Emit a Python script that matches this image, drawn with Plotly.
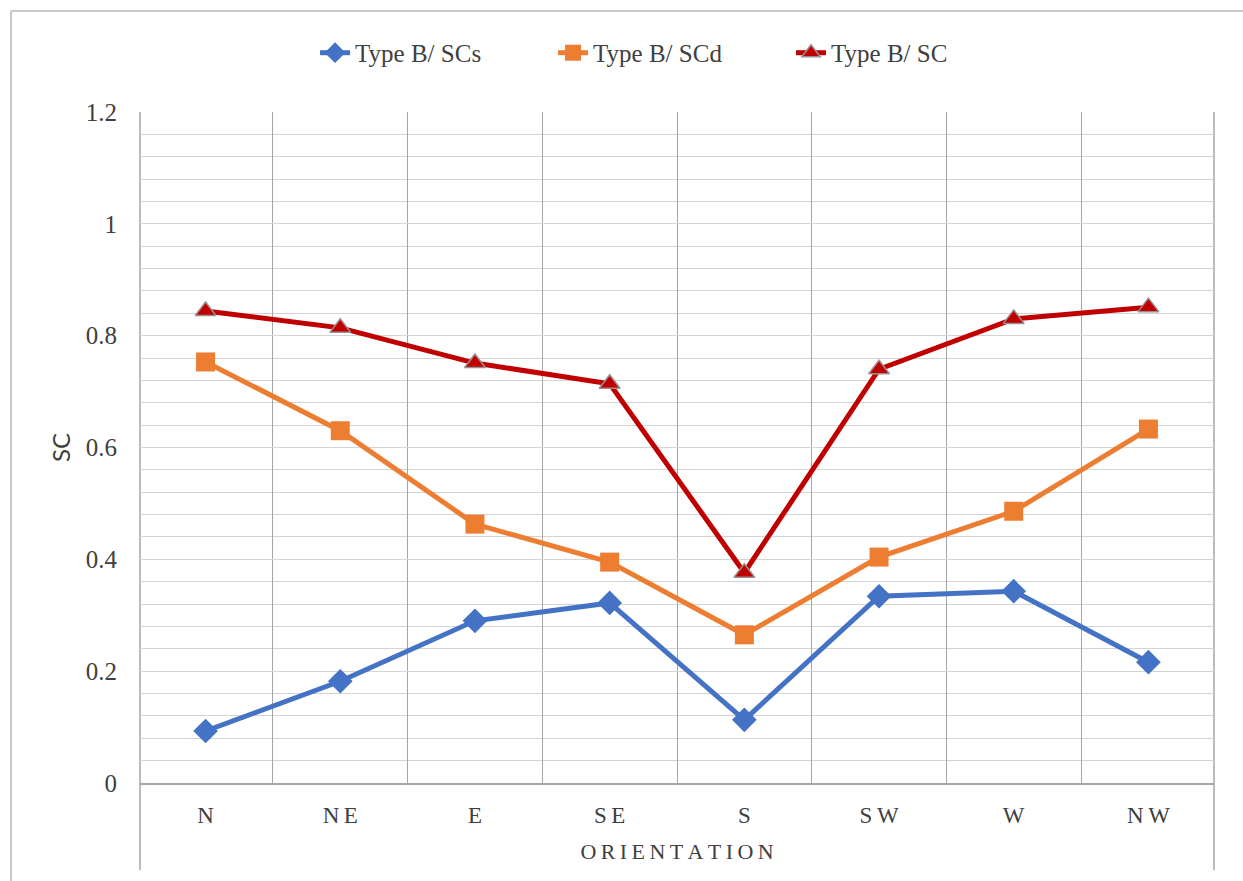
import plotly.graph_objects as go

# Orientation categories and shading-coefficient series
orientations = ["N", "NE", "E", "SE", "S", "SW", "W", "NW"]
tick_labels = ["N", "N\u2009E", "E", "S\u2009E", "S", "S\u2009W", "W", "N\u2009W"]
sc_s = [0.093, 0.182, 0.290, 0.322, 0.113, 0.334, 0.343, 0.216]
sc_d = [0.753, 0.630, 0.463, 0.395, 0.265, 0.404, 0.486, 0.633]
sc_total = [0.844, 0.814, 0.751, 0.714, 0.376, 0.740, 0.830, 0.851]

series_names = ["Type B/ SCs", "Type B/ SCd", "Type B/ SC"]
axis_title_x = "\u2009".join("ORIENTATION")

fig = go.Figure()

fig.add_trace(go.Scatter(
    x=orientations, y=sc_s, name=series_names[0], mode="lines+markers",
    line=dict(color="#4472C4", width=5),
    marker=dict(symbol="diamond", size=19, color="#4472C4"),
))
fig.add_trace(go.Scatter(
    x=orientations, y=sc_d, name=series_names[1], mode="lines+markers",
    line=dict(color="#ED7D31", width=5),
    marker=dict(symbol="square", size=19, color="#ED7D31"),
))
fig.add_trace(go.Scatter(
    x=orientations, y=sc_total, name=series_names[2], mode="lines+markers",
    line=dict(color="#C00000", width=5),
    marker=dict(symbol="triangle-up", size=18, color="#C00000",
                line=dict(color="#9a8f8f", width=1.5)),
))

serif = "Liberation Serif"

fig.update_layout(
    width=1243, height=881,
    margin=dict(l=140, r=29, t=112, b=98),
    paper_bgcolor="white", plot_bgcolor="white",
    showlegend=True,
    legend=dict(
        orientation="h", x=0.163, xanchor="left", y=1.088, yanchor="middle",
        font=dict(family=serif, size=25, color="#404040"),
        entrywidth=193, entrywidthmode="pixels", tracegroupgap=0,
    ),
    xaxis=dict(
        type="category", categoryorder="array", categoryarray=orientations,
        tickvals=orientations, ticktext=tick_labels,
        tickson="boundaries", ticks="",
        showgrid=True, gridcolor="#a6a6a6", gridwidth=1,
        showline=True, linecolor="#a6a6a6", linewidth=1.5,
        tickfont=dict(family=serif, size=23, color="#404040"),
        ticklabelstandoff=11,
        title=dict(text=axis_title_x,
                   font=dict(family=serif, size=22, color="#404040"), standoff=16),
        fixedrange=True,
    ),
    yaxis=dict(
        range=[0, 1.2], dtick=0.2, tick0=0,
        showgrid=True, gridcolor="#d4d4d4", gridwidth=1,
        minor=dict(dtick=0.04, showgrid=True, gridcolor="#d4d4d4", gridwidth=1),
        zeroline=False, showline=False, ticks="",
        tickfont=dict(family=serif, size=25, color="#404040"),
        ticklabelstandoff=22,
        title=dict(text="SC", font=dict(family="Lato", size=24, color="#404040"), standoff=8),
        fixedrange=True,
    ),
    shapes=[
        # outer chart frame (left and top edges)
        dict(type="line", xref="paper", yref="paper", x0=-0.1201, x1=-0.1201, y0=1.1505, y1=-0.15,
             line=dict(color="#c8c8c8", width=2), layer="below"),
        dict(type="line", xref="paper", yref="paper", x0=-0.1201, x1=1.03, y0=1.1505, y1=1.1505,
             line=dict(color="#c8c8c8", width=2), layer="below"),
        # plot-area side rules extending below the axis
        dict(type="line", xref="paper", yref="paper", x0=0, x1=0, y0=1, y1=-0.13,
             line=dict(color="#a6a6a6", width=1.5), layer="below"),
        dict(type="line", xref="paper", yref="paper", x0=1, x1=1, y0=1, y1=-0.13,
             line=dict(color="#a6a6a6", width=1.5), layer="below"),
    ],
)

fig.write_html("out.html")
